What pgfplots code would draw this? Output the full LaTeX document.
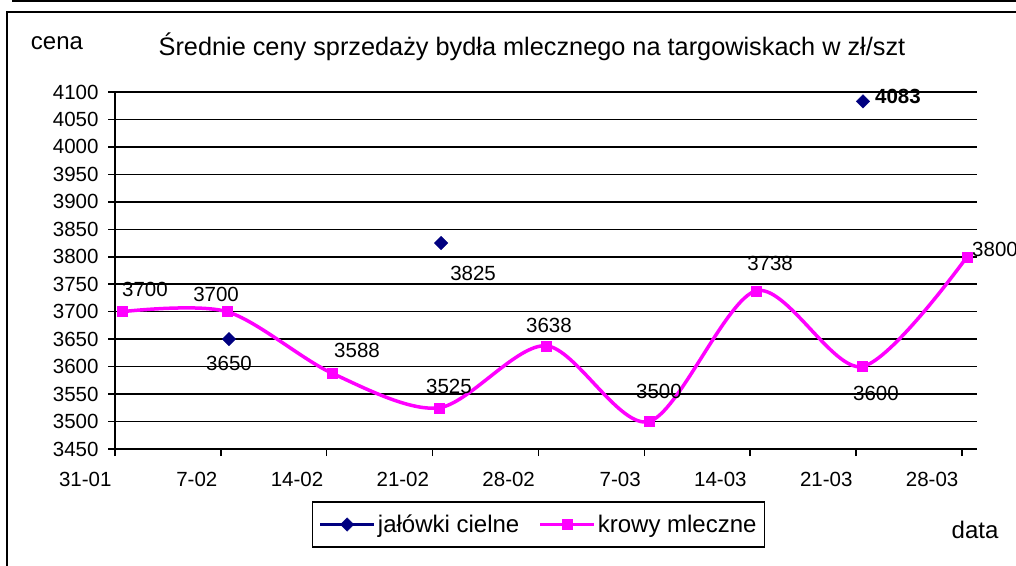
\documentclass[border=0pt]{standalone}
\usepackage{pgfplots}
\pgfplotsset{compat=1.18}
\usepackage{fontspec}
\setmainfont{Liberation Sans}
\definecolor{navy}{RGB}{0,0,128}
\definecolor{mag}{RGB}{255,0,255}
\begin{document}
\begin{tikzpicture}
\useasboundingbox (0pt,0pt) rectangle (1016pt,565pt);
\fill[white] (0pt,0pt) rectangle (1016pt,565pt);
\draw[line width=2.5pt] (12pt,564pt) -- (1016pt,564pt);
\draw[line width=1.5pt] (7pt,-2pt) -- (7pt,553pt) -- (1018pt,553pt);
\node[font=\fontsize{24}{28}\selectfont] at (57pt,522pt) {cena};
\node[font=\fontsize{25.3}{28}\selectfont] at (532pt,518pt) {Średnie ceny sprzedaży bydła mlecznego na targowiskach w zł/szt};
\node[font=\fontsize{24}{28}\selectfont] at (975pt,35pt) {data};
\begin{axis}[
  at={(115pt,116pt)}, anchor=south west,
  scale only axis, width=862pt, height=357pt,
  xmin=0, xmax=57, ymin=3450, ymax=4100,
  xtick={0,7,...,56},
  xticklabels={31-01,7-02,14-02,21-02,28-02,7-03,14-03,21-03,28-03},
  ytick={3450,3500,...,4100},
  ymajorgrids, grid style={black, line width=1.5pt},
  axis x line*=bottom, axis y line*=left,
  axis line style={line width=1.5pt, -},
  tick align=outside, major tick length=7pt,
  tick style={black, line width=1.5pt},
  /pgf/number format/assume math mode=true,
  /pgf/number format/1000 sep={},
  ticklabel style={font=\fontsize{20.5}{24}\selectfont},
  xticklabel style={anchor=north east, xshift=0pt, yshift=-13pt},
  yticklabel style={xshift=-6pt},
  clip=false,
  legend columns=2,
  legend style={at={(axis description cs:0.4913,-0.2115)}, anchor=center,
    draw=black, line width=1.5pt, font=\fontsize{24}{28}\selectfont,
    inner xsep=6pt, inner ysep=11pt,
    /tikz/every even column/.append style={column sep=17pt}},
  legend image code/.code={\draw[mark repeat=2,mark phase=2,#1] plot coordinates {(0pt,0pt)(27pt,0pt)(54pt,0pt)};},
]
\addplot[navy, only marks, mark=square*, mark size=4.8pt, mark options={solid, fill=navy, line width=0.3pt, rotate=45},
  legend image post style={sharp plot, line width=3.5pt}]
  coordinates {(7.54,3650) (21.56,3825) (49.46,4083)};
\addlegendentry{jałówki cielne}
\addplot[mag, line width=3.5pt, smooth, mark=square*, mark size=5pt, mark options={solid, fill=mag, line width=0.4pt}]
  coordinates {(0.46,3700) (7.41,3700) (14.35,3588) (21.42,3525) (28.5,3638) (35.31,3500) (42.39,3738) (49.39,3600) (56.34,3800)};
\addlegendentry{krowy mleczne}
\begin{scope}[every node/.style={font=\fontsize{20.5}{24}\selectfont, inner sep=0pt}]
\node[xshift=23pt, yshift=22pt] at (axis cs:0.46,3700) {3700};
\node[xshift=-11pt, yshift=17pt] at (axis cs:7.41,3700) {3700};
\node[yshift=-24pt] at (axis cs:7.54,3650) {3650};
\node[xshift=25pt, yshift=23pt] at (axis cs:14.35,3588) {3588};
\node[xshift=10pt, yshift=21pt] at (axis cs:21.42,3525) {3525};
\node[xshift=32pt, yshift=-30pt] at (axis cs:21.56,3825) {3825};
\node[xshift=3pt, yshift=20pt] at (axis cs:28.5,3638) {3638};
\node[xshift=10pt, yshift=30pt] at (axis cs:35.31,3500) {3500};
\node[xshift=14pt, yshift=27pt] at (axis cs:42.39,3738) {3738};
\node[xshift=14pt, yshift=-27pt] at (axis cs:49.39,3600) {3600};
\node[xshift=28pt, yshift=7pt] at (axis cs:56.34,3800) {3800};
\node[xshift=35pt, yshift=5pt, font=\fontsize{20.5}{24}\selectfont\bfseries] at (axis cs:49.46,4083) {4083};
\end{scope}
\end{axis}
\end{tikzpicture}
\end{document}
